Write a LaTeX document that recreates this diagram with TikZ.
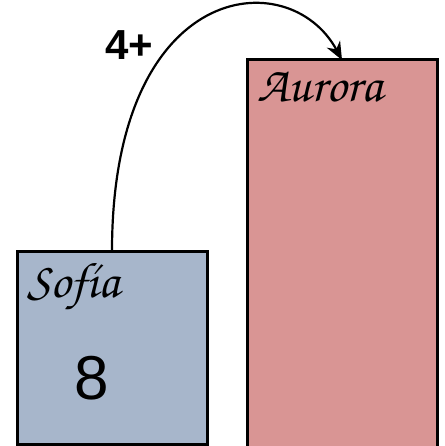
\documentclass[tikz,border=0pt]{standalone}
\usepackage{fontspec}
\newfontfamily\arialfont{Liberation Sans}
\newcommand{\cursivefont}{\fontencoding{OT1}\fontfamily{pzc}\fontseries{m}\fontshape{it}\selectfont}
\definecolor{sofiablue}{HTML}{A7B6CB}
\definecolor{aurorared}{HTML}{D99594}
\usetikzlibrary{arrows.meta}
\tikzset{
  bar/.style={draw=black, line width=3pt, minimum width=190pt, inner sep=0pt, outer sep=0pt},
  namelabel/.style={anchor=base west, inner sep=0pt, font=\cursivefont\fontsize{50}{50}\selectfont},
  conn/.style={-{Stealth[length=18pt,width=15pt]}, line width=2.2pt}
}
\begin{document}
\begin{tikzpicture}[x=1pt,y=-1pt]
\useasboundingbox (0,0) rectangle (444,446);
\node[bar, fill=sofiablue, minimum height=193pt] (sofia) at (112,347.5) {};
\node[bar, fill=aurorared, minimum height=400pt] (aurora) at (342,260) {};
\node[namelabel] (sofialbl) at (27,297) {Sof\'{\i}a};
\node[namelabel] (auroralbl) at (257,102) {Aurora};
\node[font=\arialfont\fontsize{62}{62}\selectfont, inner sep=0pt] (eight) at (92,378) {8};
\node[font=\arialfont\bfseries\fontsize{42}{42}\selectfont, inner sep=0pt] (four) at (129,45) {4+};
\draw[conn] (sofia.north) .. controls +(0,-271) and +(-53,-98) .. (aurora.north);
\end{tikzpicture}
\end{document}
